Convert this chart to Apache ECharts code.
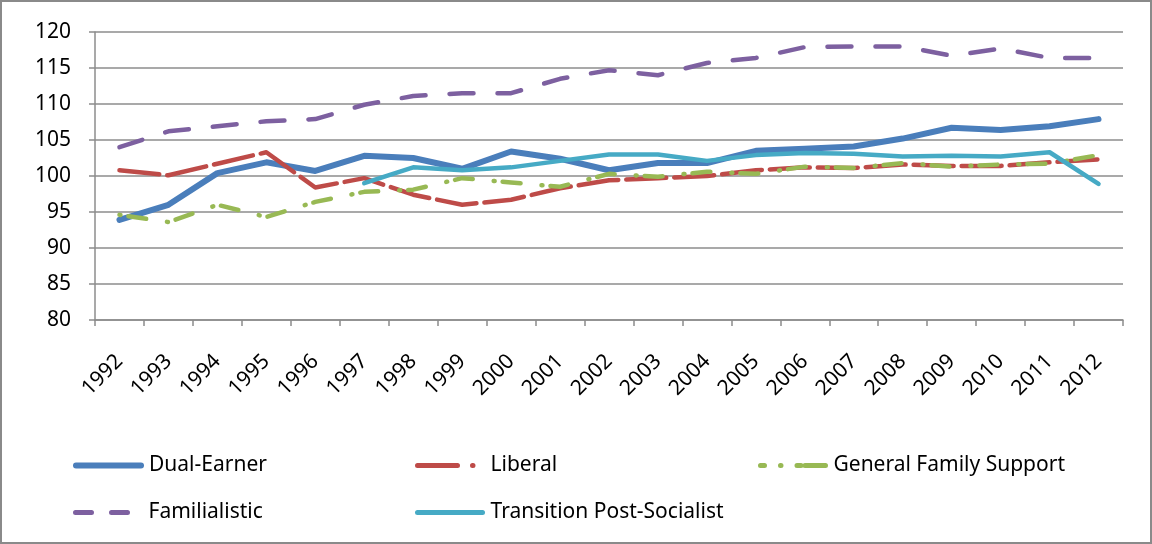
<!DOCTYPE html>
<html>
<head>
<meta charset="utf-8">
<script src="https://cdn.jsdelivr.net/npm/echarts@6/dist/echarts.min.js"></script>
<style>
  html, body { margin: 0; padding: 0; background: #fff; }
  #chart { width: 1152px; height: 544px; box-sizing: border-box; border: 2px solid #8a8a8a; }
</style>
</head>
<body>
<div id="chart"></div>
<script>
// data
var years = ['1992', '1993', '1994', '1995', '1996', '1997', '1998', '1999', '2000', '2001', '2002',
    '2003', '2004', '2005', '2006', '2007', '2008', '2009', '2010', '2011', '2012'];

var dualEarner = [93.9, 96.0, 100.4, 101.9, 100.7, 102.8, 102.5, 101.0, 103.4, 102.4, 100.8,
    101.8, 101.8, 103.5, 103.8, 104.1, 105.2, 106.7, 106.4, 106.9, 107.9];

var liberal = [100.8, 100.1, 101.7, 103.3, 98.4, 99.7, 97.4, 96.0, 96.7, 98.3, 99.4,
    99.7, 100.0, 100.8, 101.2, 101.1, 101.6, 101.4, 101.4, 101.9, 102.3];

var generalFamily = [94.6, 93.6, 96.0, 94.3, 96.4, 97.8, 98.1, 99.7, 99.1, 98.5, 100.3,
    99.9, 100.6, 100.3, 101.3, 101.1, 101.8, 101.3, 101.6, 101.7, 102.9];

var familialistic = [104.0, 106.2, 106.9, 107.6, 107.9, 109.9, 111.1, 111.5, 111.5, 113.5, 114.7,
    114.0, 115.7, 116.4, 117.9, 118.0, 118.0, 116.7, 117.7, 116.4, 116.4];

var transition = [null, null, null, null, null, 99.0, 101.2, 100.8, 101.2, 102.1, 103.0,
    103.0, 102.1, 102.9, 103.2, 103.1, 102.7, 102.8, 102.7, 103.3, 98.9];

var yTicks = { min: 80, max: 120, step: 5 };

var font = "'Noto Sans', 'Open Sans', sans-serif";

function makeLine(name, data, color, width, dash) {
    return {
        name: name,
        type: 'line',
        data: data,
        symbol: 'none',
        connectNulls: false,
        lineStyle: { color: color, width: width, type: dash, cap: 'round', join: 'round' },
        itemStyle: { color: color }
    };
}

// one legend per item so the columns line up like the original
function makeLegend(name, left, top, dash, w) {
    return {
        data: [name],
        left: left,
        top: top,
        itemWidth: 65,
        itemHeight: 14,
        itemGap: 0,
        itemStyle: { opacity: 0 },
        lineStyle: { type: dash || 'solid', width: w || 5, cap: 'round' },
        textStyle: { fontFamily: font, fontSize: 21, color: '#000', padding: [0, 0, 0, 3] }
    };
}

var myChart = echarts.init(document.getElementById('chart'));

var option = {
    animation: false,
    grid: { left: 93, right: 27, top: 30, bottom: 222 },
    legend: [
        makeLegend('Dual-Earner', 66, 448, null, 6),
        makeLegend('Liberal', 408, 448, [40, 15, 0.5, 15]),
        makeLegend('General Family Support', 751, 448, [4, 16, 0.5, 16, 4]),
        makeLegend('Familialistic', 66, 495, [16, 20]),
        makeLegend('Transition Post-Socialist', 408, 495)
    ],
    xAxis: {
        type: 'category',
        data: years,
        boundaryGap: true,
        axisLine: { lineStyle: { color: '#8c8c8c', width: 1.5 } },
        axisTick: { show: true, interval: 0, length: 6, lineStyle: { color: '#8c8c8c', width: 1.5 } },
        axisLabel: { interval: 0, rotate: 45, margin: 38, fontFamily: font, fontSize: 21, color: '#000' }
    },
    yAxis: {
        type: 'value',
        min: yTicks.min,
        max: yTicks.max,
        interval: yTicks.step,
        axisLine: { show: true, lineStyle: { color: '#8c8c8c', width: 1.5 } },
        axisTick: { show: true, length: 6, lineStyle: { color: '#8c8c8c', width: 1.5 } },
        axisLabel: { margin: 24, fontFamily: font, fontSize: 21, color: '#000' },
        splitLine: { lineStyle: { color: '#8c8c8c', width: 1.5 } }
    },
    series: [
        makeLine('Dual-Earner', dualEarner, '#4a7ebb', 6, 'solid'),
        makeLine('Liberal', liberal, '#be4b48', 4.5, [40, 8]),
        makeLine('General Family Support', generalFamily, '#98b954', 4.5, [1, 8, 18, 21]),
        makeLine('Familialistic', familialistic, '#7d60a0', 4.5, [24, 24]),
        makeLine('Transition Post-Socialist', transition, '#46aac5', 4.5, 'solid')
    ]
};

myChart.setOption(option);
</script>
</body>
</html>
